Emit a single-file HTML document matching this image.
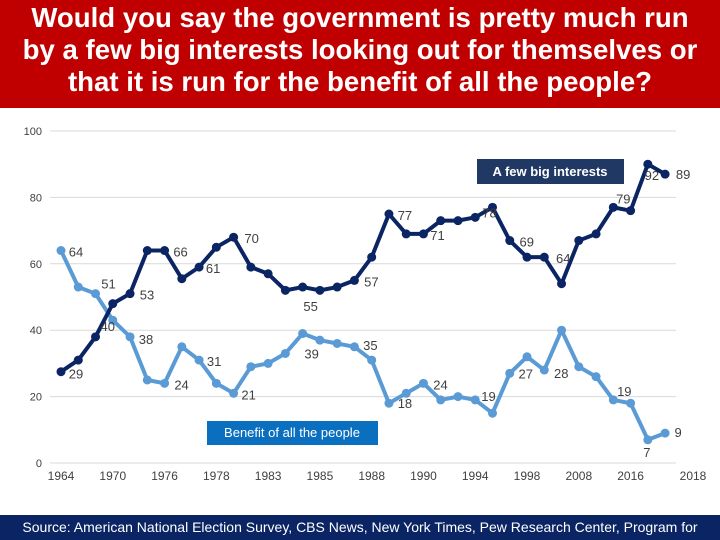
<!DOCTYPE html>
<html><head><meta charset="utf-8"><style>
body{margin:0;width:720px;height:540px;overflow:hidden;background:#fff;font-family:"Liberation Sans",sans-serif;position:relative}
#title{position:absolute;left:0;top:0;width:720px;height:108px;background:#c00000;color:#fff;font-weight:bold;font-size:27.6px;line-height:32px;text-align:center;padding-top:2px;box-sizing:border-box;white-space:nowrap}
#footer{position:absolute;left:0;top:515px;width:720px;height:25px;background:#0b2463;color:#fff;font-family:"Liberation Sans Narrow","Liberation Sans",sans-serif;font-size:14px;line-height:25px;text-align:center;white-space:nowrap;overflow:hidden}
svg{position:absolute;left:0;top:0}
</style></head><body>
<div id="title">Would you say the government is pretty much run<br>by a few big interests looking out for themselves or<br>that it is run for the benefit of all the people?</div>
<svg id="chart" width="720" height="540"></svg>
<div id="footer">Source: American National Election Survey, CBS News, New York Times, Pew Research Center, Program for</div>
<script>
const bigInterests=[27.5,31,38,48,51,64,64,55.5,59,65,68,59,57,52,53,52,53,55,62,75,69,69,73,73,74,77,67,62,62,54,67,69,77,76,90,87];
const allPeople=[64,53,51,43,38,25,24,35,31,24,21,29,30,33,39,37,36,35,31,18,21,24,19,20,19,15,27,32,28,40,29,26,19,18,7,9];
const xLabels=["1964","1970","1976","1978","1983","1985","1988","1990","1994","1998","2008","2016","2018"];
const yTicks=[0,20,40,60,80,100];
const bigLabels=[[0,"29"],[4,"53"],[6,"66"],[8,"61"],[10,"70"],[14,"55"],[17,"57"],[19,"77"],[21,"71"],[25,"78"],[26,"69"],[28,"64"],[32,"79"],[34,"92"],[35,"89"]];
const peopleLabels=[[0,"64"],[2,"51"],[3,"40"],[4,"38"],[6,"24"],[8,"31"],[10,"21"],[14,"39"],[17,"35"],[19,"18"],[21,"24"],[25,"19"],[26,"27"],[28,"28"],[32,"19"],[34,"7"],[35,"9"]];
/* label placement offsets (style only): dx, dy of label centre relative to point */
const bigOff={0:[15,7],4:[17,6],6:[16,6],8:[14,6],10:[18,6],14:[8,24],17:[17,6],19:[16,6],21:[14,6],25:[-3,10],26:[17,6],28:[19,6],32:[10,-4],34:[4,16],35:[18,5]};
const pplOff={0:[15,6],2:[13,-5],3:[-5,11],4:[16,7],6:[17,6],8:[15,6],10:[15,6],14:[9,25],17:[16,3],19:[16,5],21:[17,6],25:[-4,-12],26:[16,5],28:[17,8],32:[11,-4],34:[-1,17],35:[13,4]};
const ns="http://www.w3.org/2000/svg",svg=document.getElementById('chart');
const X=i=>61+i*17.26, Y=v=>463-v*3.32;
function mk(t,a){const e=document.createElementNS(ns,t);for(const k in a)e.setAttribute(k,a[k]);svg.appendChild(e);return e;}
yTicks.forEach(v=>{const g=mk('line',{x1:50,x2:676,y1:Y(v),y2:Y(v),stroke:'#d9d9d9','stroke-width':1});


const t=mk('text',{x:42,y:Y(v)+4,'text-anchor':'end','font-size':11,fill:'#404040','font-family':'Liberation Sans Narrow,Liberation Sans,sans-serif'});t.textContent=v;

});
xLabels.forEach((l,i)=>{const x=i<12?X(i*3):693;const t=mk('text',{x:x,y:480,'text-anchor':'middle','font-size':12,fill:'#404040','font-family':'Liberation Sans Narrow,Liberation Sans,sans-serif'});t.textContent=l;

});
function series(d,c,name){const p=mk('polyline',{points:d.map((v,i)=>X(i)+','+Y(v)).join(' '),fill:'none',stroke:c,'stroke-width':4,'stroke-linejoin':'round'});


d.forEach((v,i)=>{const m=mk('circle',{cx:X(i),cy:Y(v),r:4.5,fill:c});

});}
series(allPeople,'#5b9bd5','all-people');
series(bigInterests,'#0b2463','big-interests');
function labels(L,d,name,off){L.forEach(([i,s])=>{const o=off[i]||[14,5];const t=mk('text',{x:X(i)+o[0],y:Y(d[i])+o[1],'text-anchor':'middle','font-size':13,fill:'#404040'});t.textContent=s;

});}
labels(bigLabels,bigInterests,'big-interests',bigOff);
labels(peopleLabels,allPeople,'all-people',pplOff);
const b1=mk('rect',{x:477,y:159,width:147,height:25,fill:'#1f3864'});
const t1=mk('text',{x:550,y:176,'text-anchor':'middle','font-size':13,fill:'#fff','font-weight':'bold'});t1.textContent='A few big interests';
const b2=mk('rect',{x:207,y:421,width:171,height:24,fill:'#0b6fc0'});
const t2=mk('text',{x:292,y:437,'text-anchor':'middle','font-size':13,fill:'#fff'});t2.textContent='Benefit of all the people';
</script>
</body></html>
